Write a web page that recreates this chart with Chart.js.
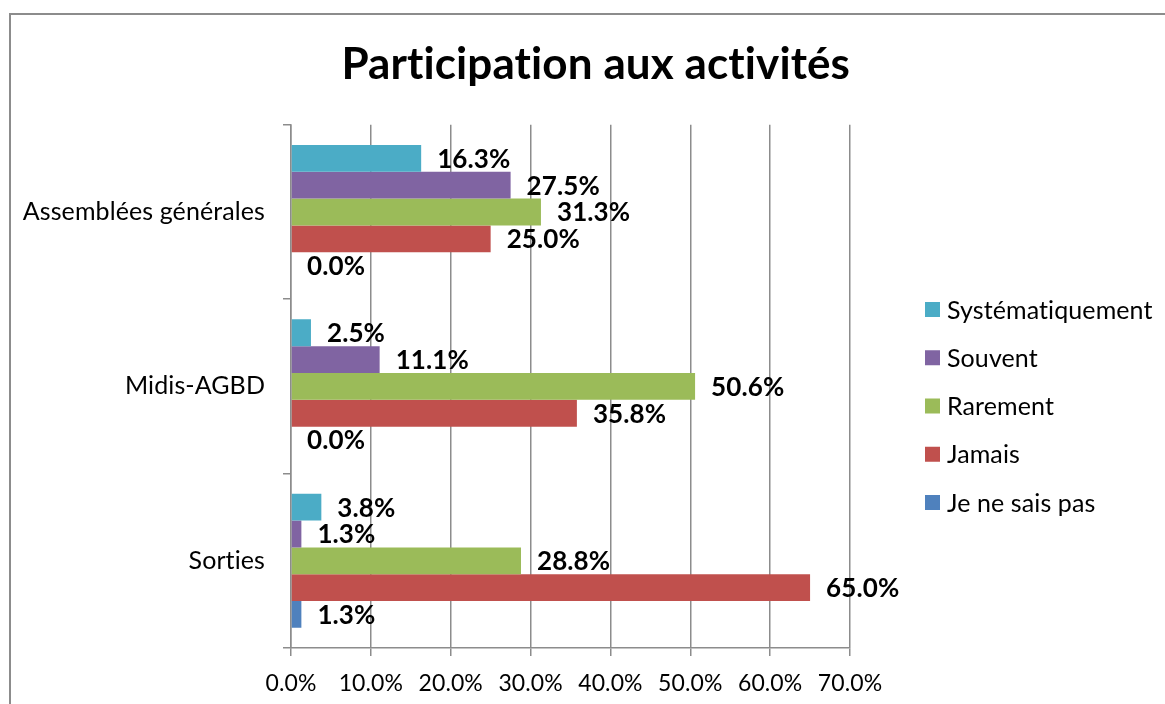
<!DOCTYPE html>
<html lang="fr">
<head>
<meta charset="utf-8">
<title>Participation aux activités</title>
<script src="https://cdn.jsdelivr.net/npm/chart.js@4.4.1/dist/chart.umd.min.js"></script>
<style>
  html, body { margin: 0; padding: 0; background: #fff; }
  #wrap { position: relative; width: 1165px; height: 704px; overflow: hidden; }
  #frame { position: absolute; left: 9px; top: 13px; width: 1200px; height: 750px; border-top: 2px solid #8c8c8c; border-left: 2px solid #8c8c8c; }
  #chart { position: absolute; left: 0; top: 0; }
</style>
</head>
<body>
<div id="wrap">
  <div id="frame"></div>
  <canvas id="chart" width="1165" height="704"></canvas>
</div>
<script>
// Data (percentages)
const categories = ["Assemblées générales", "Midis-AGBD", "Sorties"];
const seriesNames = ["Systématiquement", "Souvent", "Rarement", "Jamais", "Je ne sais pas"];
const systematiquement = [16.3, 2.5, 3.8];
const souvent = [27.5, 11.1, 1.3];
const rarement = [31.3, 50.6, 28.8];
const jamais = [25.0, 35.8, 65.0];
const neSaisPas = [0.0, 0.0, 1.3];
const xTicks = [0, 10, 20, 30, 40, 50, 60, 70];
const seriesColors = ["#4BACC6", "#8064A2", "#9BBB59", "#C0504D", "#4F81BD"];

const FONT = "Lato";

// Lato has a "ti" ligature, a tiny letter spacing turns it off
const noLigatures = {
  id: "noLigatures",
  beforeDraw(chart) {
    chart.ctx.letterSpacing = "0.1px";
  }
};

// Value labels at the end of every bar
const valueLabels = {
  id: "valueLabels",
  afterDatasetsDraw(chart) {
    const { ctx } = chart;
    ctx.save();
    ctx.font = `bold 26px ${FONT}`;
    ctx.fillStyle = "#000";
    ctx.textAlign = "left";
    ctx.textBaseline = "middle";
    chart.data.datasets.forEach((ds, i) => {
      chart.getDatasetMeta(i).data.forEach((bar, j) => {
        ctx.fillText(ds.data[j].toFixed(1) + "%", bar.x + 16, bar.y + 1);
      });
    });
    ctx.restore();
  }
};

// Legend on the right, one item per series
const sideLegend = {
  id: "sideLegend",
  afterDraw(chart) {
    const { ctx } = chart;
    ctx.save();
    ctx.font = `25px ${FONT}`;
    ctx.textAlign = "left";
    ctx.textBaseline = "middle";
    chart.data.datasets.forEach((ds, i) => {
      const y = 309.5 + i * 48.25;
      ctx.fillStyle = ds.backgroundColor;
      ctx.fillRect(925, y - 7.5, 15, 15);
      ctx.fillStyle = "#000";
      ctx.fillText(ds.label, 947, y + 1);
    });
    ctx.restore();
  }
};

const seriesData = [systematiquement, souvent, rarement, jamais, neSaisPas];

document.fonts.load(`25px ${FONT}`).then(() => document.fonts.load(`bold 26px ${FONT}`)).then(() => {
  const ctx = document.getElementById("chart").getContext("2d");
  new Chart(ctx, {
    type: "bar",
    data: {
      labels: categories,
      datasets: seriesNames.map((name, i) => ({
        label: name,
        data: seriesData[i],
        backgroundColor: seriesColors[i],
        borderWidth: 0,
        barPercentage: 1,
        categoryPercentage: 0.769
      }))
    },
    options: {
      indexAxis: "y",
      responsive: false,
      animation: false,
      layout: { padding: { left: 0, right: 315, top: 0, bottom: 0 } },
      plugins: {
        legend: { display: false },
        tooltip: { enabled: false },
        title: {
          display: true,
          text: "Participation aux activités",
          align: "end",
          color: "#000",
          font: { family: FONT, size: 44, weight: "bold", lineHeight: 1.2 },
          padding: { top: 38, bottom: 34 }
        }
      },
      scales: {
        x: {
          min: xTicks[0],
          max: xTicks[xTicks.length - 1],
          afterFit: s => { s.height = 56; },
          ticks: {
            stepSize: xTicks[1] - xTicks[0],
            color: "#000",
            padding: 14,
            font: { family: FONT, size: 23 },
            callback: v => v.toFixed(1) + "%"
          },
          grid: { color: "#8c8c8c", lineWidth: 1.5, tickLength: 8 },
          border: { color: "#8c8c8c", width: 1.5 }
        },
        y: {
          afterFit: s => { s.width = 291; },
          ticks: { color: "#000", padding: 18, font: { family: FONT, size: 25 } },
          grid: { drawOnChartArea: false, drawTicks: true, tickLength: 8, color: "#8c8c8c", lineWidth: 1.5 },
          border: { color: "#8c8c8c", width: 1.5 }
        }
      }
    },
    plugins: [noLigatures, valueLabels, sideLegend]
  });
});
</script>
</body>
</html>
